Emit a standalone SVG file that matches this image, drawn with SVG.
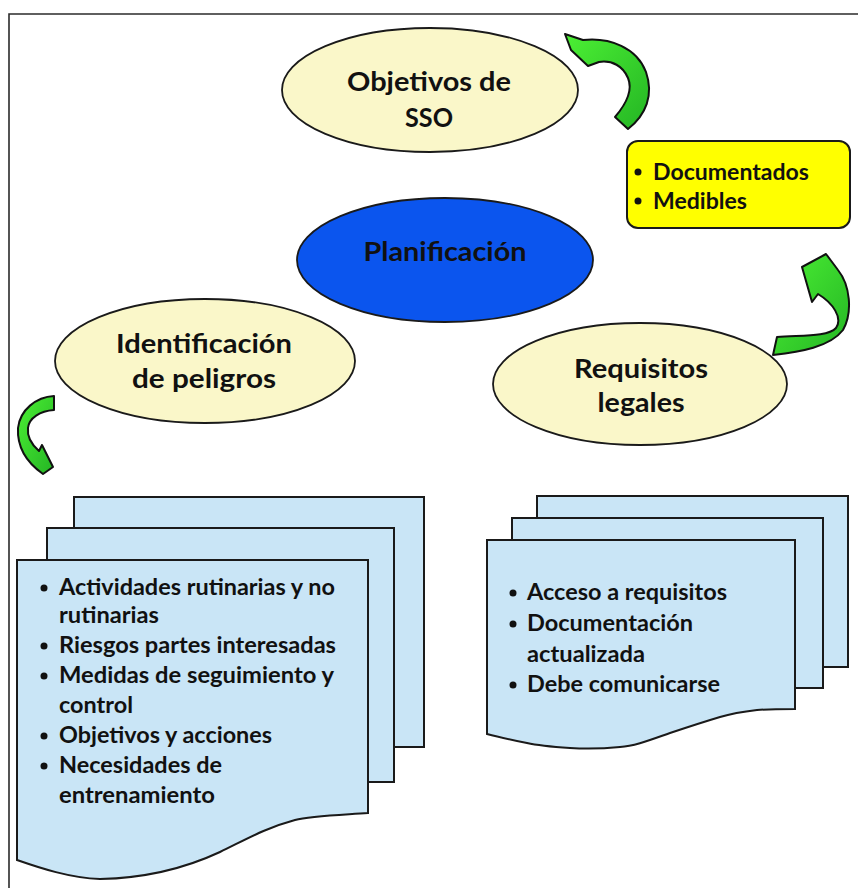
<svg xmlns="http://www.w3.org/2000/svg" width="858" height="888" viewBox="0 0 858 888">
  <style>
    .frame { fill: none; stroke: #2b2b2b; stroke-width: 1.6; }
    .cream { fill: #faf7c9; stroke: #1a1a1a; stroke-width: 1.8; }
    .blue { fill: #0b55ee; stroke: #1a1a1a; stroke-width: 1.8; }
    .note { fill: #ffff00; stroke: #1a1a1a; stroke-width: 2; }
    .page { fill: #c9e5f6; stroke: #1a1a1a; stroke-width: 2; }
    .arrow { fill: url(#greenGrad); stroke: #111; stroke-width: 2; stroke-linejoin: round; }
    .t { font-family: Lato, "Liberation Sans", sans-serif; font-weight: bold; fill: #111; }
    .big { font-size: 26px; text-anchor: middle; }
    .list { font-size: 22px; }
    .dot { fill: #111; }
  </style>
  <defs>
    <linearGradient id="greenGrad" x1="0" y1="0" x2="1" y2="1">
      <stop offset="0" stop-color="#4cf034"/>
      <stop offset="1" stop-color="#24b524"/>
    </linearGradient>
  </defs>

  <!-- outer frame -->
  <polyline class="frame" points="858,14 9,14 9,888"/>

  <!-- connectors: curved green block arrows -->
  <g id="connectors">
    <path class="arrow" d="M565,34 L583,40 C610,37 637,48 646,72 C654,95 646,115 628,129 L615,117 C627,103 633,90 628,78 C623,66 612,60 599,62 L588,66 L571,50 Z"/>
    <path class="arrow" d="M826,254 L802,267 L812,302 L818,294 C833,303 843,318 836,328 C828,337 800,335 777,337 L773,355 C800,352 830,347 843,330 C853,312 850,285 838,270 Z"/>
    <path class="arrow" d="M54,396 C36,397 20,410 18,428 C17,447 26,462 43,474 L53,467 L42,445 L39,451 C31,444 27,436 28,428 C29,418 40,411 54,410 Z"/>
  </g>

  <!-- central node -->
  <g id="planificacion">
    <ellipse class="blue" cx="445" cy="260" rx="148" ry="62"/>
    <text class="t big" x="445" y="261" font-size="23" textLength="163" lengthAdjust="spacingAndGlyphs">Planificación</text>
  </g>

  <g id="objetivos">
    <ellipse class="cream" cx="430" cy="90" rx="148" ry="62"/>
    <text class="t big" x="429" y="91" font-size="24" textLength="164" lengthAdjust="spacingAndGlyphs">Objetivos de</text>
    <text class="t big" x="429" y="127" font-size="24" textLength="48" lengthAdjust="spacingAndGlyphs">SSO</text>
  </g>

  <g id="identificacion">
    <ellipse class="cream" cx="205" cy="361" rx="150" ry="62"/>
    <text class="t big" x="204" y="353" textLength="176" lengthAdjust="spacingAndGlyphs">Identificación</text>
    <text class="t big" x="204" y="388" textLength="144" lengthAdjust="spacingAndGlyphs">de peligros</text>
  </g>

  <g id="requisitos">
    <ellipse class="cream" cx="640" cy="384" rx="147" ry="61"/>
    <text class="t big" x="641" y="378" textLength="134" lengthAdjust="spacingAndGlyphs">Requisitos</text>
    <text class="t big" x="641" y="412" textLength="87" lengthAdjust="spacingAndGlyphs">legales</text>
  </g>

  <g id="caracteristicas">
    <rect class="note" x="627" y="141" width="223" height="87" rx="11"/>
    <circle class="dot" cx="638" cy="172" r="3.5"/>
    <text class="t list" x="653" y="180" textLength="156" lengthAdjust="spacingAndGlyphs">Documentados</text>
    <circle class="dot" cx="638" cy="201" r="3.5"/>
    <text class="t list" x="653" y="209" textLength="94" lengthAdjust="spacingAndGlyphs">Medibles</text>
  </g>

  <!-- document stack: hazard identification -->
  <g id="docs-peligros">
    <polygon class="page" points="74,497 424,497 424,747 74,747"/>
    <polygon class="page" points="47,528 394,528 394,782 47,782"/>
    <path class="page" d="M17,560 L368,560 L368,813 C340,815 310,816 295,820 C265,828 245,840 220,852 C190,866 150,878 100,879 C70,878 40,868 17,860 Z"/>
    <g class="t list">
      <circle class="dot" cx="44" cy="588" r="3.5"/>
      <text x="59" y="595" textLength="276" lengthAdjust="spacingAndGlyphs">Actividades rutinarias y no</text>
      <text x="59" y="623" textLength="100" lengthAdjust="spacingAndGlyphs">rutinarias</text>
      <circle class="dot" cx="44" cy="646" r="3.5"/>
      <text x="59" y="653" textLength="277" lengthAdjust="spacingAndGlyphs">Riesgos partes interesadas</text>
      <circle class="dot" cx="44" cy="676" r="3.5"/>
      <text x="59" y="683" textLength="275" lengthAdjust="spacingAndGlyphs">Medidas de seguimiento y</text>
      <text x="59" y="713" textLength="74" lengthAdjust="spacingAndGlyphs">control</text>
      <circle class="dot" cx="44" cy="736" r="3.5"/>
      <text x="59" y="743" textLength="213" lengthAdjust="spacingAndGlyphs">Objetivos y acciones</text>
      <circle class="dot" cx="44" cy="766" r="3.5"/>
      <text x="59" y="773" textLength="163" lengthAdjust="spacingAndGlyphs">Necesidades de</text>
      <text x="59" y="803" textLength="156" lengthAdjust="spacingAndGlyphs">entrenamiento</text>
    </g>
  </g>

  <!-- document stack: legal requirements -->
  <g id="docs-requisitos">
    <polygon class="page" points="537,496 848,496 848,667 537,667"/>
    <polygon class="page" points="512,518 823,518 823,688 512,688"/>
    <path class="page" d="M487,540 L795,540 L795,709 C780,709 768,709 757,710 C740,712 730,714 720,717 C700,723 685,728 670,733 C650,740 635,746 620,747 C600,749 585,749 570,748 C555,747 540,746 527,743 C512,740 498,737 487,734 Z"/>
    <g class="t list">
      <circle class="dot" cx="513" cy="593" r="3.5"/>
      <text x="527" y="600" textLength="200" lengthAdjust="spacingAndGlyphs">Acceso a requisitos</text>
      <circle class="dot" cx="513" cy="624" r="3.5"/>
      <text x="527" y="631" textLength="166" lengthAdjust="spacingAndGlyphs">Documentación</text>
      <text x="527" y="662" textLength="118" lengthAdjust="spacingAndGlyphs">actualizada</text>
      <circle class="dot" cx="513" cy="685" r="3.5"/>
      <text x="527" y="692" textLength="193" lengthAdjust="spacingAndGlyphs">Debe comunicarse</text>
    </g>
  </g>
</svg>
